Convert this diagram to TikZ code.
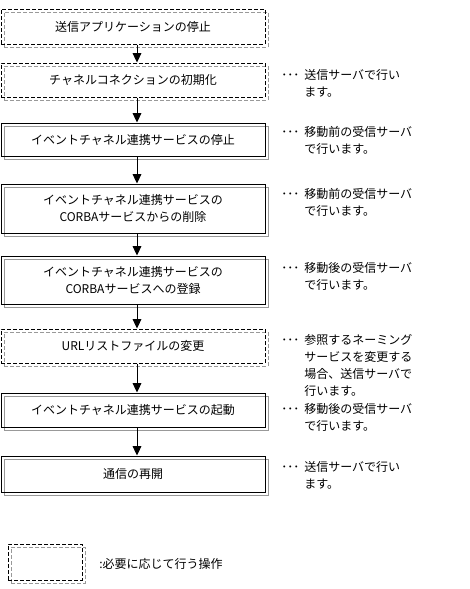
\documentclass[tikz,border=0pt]{standalone}
\usepackage{fontspec}
\setmainfont{Noto Sans CJK JP}
\usetikzlibrary{arrows.meta}
\newcommand{\notelines}[1]{\begin{tabular}[t]{@{}l@{}}#1\end{tabular}}
\tikzset{
  px/.style={x=0.75pt,y=-0.75pt},
  txt/.style={font=\fontsize{9pt}{12.75pt}\selectfont, inner sep=0pt},
  stepbox/.style={txt, draw=black, line width=0.75pt, minimum width=198pt, align=center,
    preaction={draw=gray!80, line width=0.75pt, transform canvas={shift={(2.25pt,-2.25pt)}}}},
  optbox/.style={stepbox, dashed, dash pattern=on 3pt off 1.5pt,
    preaction={draw=gray!80, line width=0.75pt, dash pattern=on 3pt off 1.5pt, transform canvas={shift={(2.25pt,-2.25pt)}}}},
  flow/.style={line width=0.75pt, -{Triangle[length=7pt,width=6.5pt]}},
  note/.style={txt, anchor=base west},
  dots/.style={txt, anchor=base west},
}
\begin{document}
\begin{tikzpicture}[px]
\useasboundingbox (0,0) rectangle (469,589);
% boxes
\node[optbox, minimum height=26.25pt] (b1) at (133,26.5) {送信アプリケーションの停止};
\node[optbox, minimum height=25.5pt] (b2) at (133,80) {チャネルコネクションの初期化};
\node[stepbox, minimum height=24.75pt] (b3) at (133,139.5) {イベントチャネル連携サービスの停止};
\node[stepbox, minimum height=36.75pt] (b4) at (133,208.5) {イベントチャネル連携サービスの\\CORBAサービスからの削除};
\node[stepbox, minimum height=36pt] (b5) at (133,280) {イベントチャネル連携サービスの\\CORBAサービスへの登録};
\node[optbox, minimum height=25.5pt] (b6) at (133,346) {URLリストファイルの変更};
\node[stepbox, minimum height=25.5pt] (b7) at (133,410) {イベントチャネル連携サービスの起動};
\node[stepbox, minimum height=27pt] (b8) at (133,474) {通信の再開};
% arrows
\foreach \a/\b in {b1/b2,b2/b3,b3/b4,b4/b5,b5/b6,b6/b7,b7/b8}{
  \draw[flow] (\a.south -| 137,0) -- (\b.north -| 137,0);
}
% notes
\node[dots] (d2) at (281,79) {･･･};
\node[note] (n2) at (304,79.5) {\notelines{送信サーバで行い\\ます。}};
\node[dots] (d3) at (281,136) {･･･};
\node[note] (n3) at (304,136.5) {\notelines{移動前の受信サーバ\\で行います。}};
\node[dots] (d4) at (281,198) {･･･};
\node[note] (n4) at (304,198.5) {\notelines{移動前の受信サーバ\\で行います。}};
\node[dots] (d5) at (281,272) {･･･};
\node[note] (n5) at (304,272.5) {\notelines{移動後の受信サーバ\\で行います。}};
\node[dots] (d6) at (281,344) {･･･};
\node[note] (n6) at (304,344.5) {\notelines{参照するネーミング\\サービスを変更する\\場合、送信サーバで\\行います。}};
\node[dots] (d7) at (281,413) {･･･};
\node[note] (n7) at (304,413.5) {\notelines{移動後の受信サーバ\\で行います。}};
\node[dots] (d8) at (281,471) {･･･};
\node[note] (n8) at (304,471.5) {\notelines{送信サーバで行い\\ます。}};
% legend
\node[optbox, minimum width=55.5pt, minimum height=27pt] (lg) at (45,562) {};
\node[txt, anchor=base west] (lt) at (99,568.5) {:必要に応じて行う操作};
\end{tikzpicture}
\end{document}
